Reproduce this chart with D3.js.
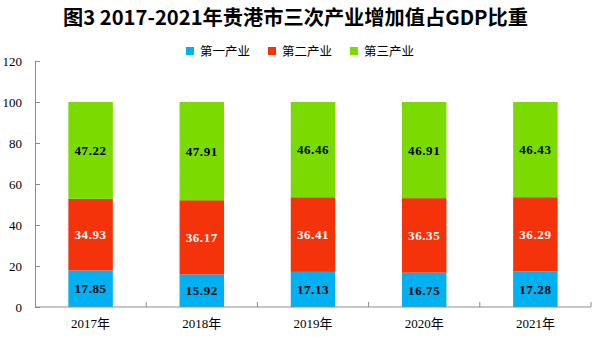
<!DOCTYPE html>
<html>
<head>
<meta charset="utf-8">
<script src="https://cdn.jsdelivr.net/npm/d3@7"></script>
<style>
  html, body { margin: 0; padding: 0; background: #fff; }
  svg { display: block; }
</style>
</head>
<body>
<svg id="chart" width="606" height="337"></svg>
<script>
const years = ["2017年", "2018年", "2019年", "2020年", "2021年"];
const seriesNames = ["第一产业", "第二产业", "第三产业"];
const primary = [17.85, 15.92, 17.13, 16.75, 17.28];
const secondary = [34.93, 36.17, 36.41, 36.35, 36.29];
const tertiary = [47.22, 47.91, 46.46, 46.91, 46.43];
const yTicks = [0, 20, 40, 60, 80, 100, 120];
const colors = ["#00B0F0", "#F4330A", "#7BDA00"];
const labelColors = ["#000", "#fff", "#000"];

const svg = d3.select("#chart");
const margin = { left: 35, right: 15, top: 61, bottom: 30 };

const x = d3.scaleBand().domain(years).range([margin.left, 591]).paddingInner(0.6).paddingOuter(0.3);
const xOuter = d3.scaleBand().domain(years).range([margin.left, 591]);
const y = d3.scaleLinear().domain([0, 120]).range([307, 61]);

const rows = years.map((yr, i) => ({ year: yr, s0: primary[i], s1: secondary[i], s2: tertiary[i] }));
const stack = d3.stack().keys(["s0", "s1", "s2"]);
const layers = stack(rows);

const serif = "'Liberation Serif', 'Noto Sans CJK SC', serif";
const axisColor = "#8c8c8c";

// Title
svg.append("text")
  .attr("x", 63).attr("y", 25)
  .attr("textLength", 465).attr("lengthAdjust", "spacingAndGlyphs")
  .attr("font-family", "'Noto Sans CJK SC', sans-serif")
  .attr("font-weight", "bold").attr("font-size", 20)
  .attr("fill", "#000")
  .text("图3 2017-2021年贵港市三次产业增加值占GDP比重");

// Legend
const legendX = [186, 268, 350];
seriesNames.forEach((name, i) => {
  const g = svg.append("g").attr("transform", `translate(${legendX[i]},47)`);
  g.append("rect").attr("width", 8).attr("height", 8).attr("fill", colors[i]);
  g.append("text").attr("x", 14).attr("y", 9)
    .attr("font-family", "'Noto Sans CJK SC', sans-serif")
    .attr("font-size", 12.5).attr("fill", "#000")
    .text(name);
});

// Stacked bars with value labels
layers.forEach((layer, si) => {
  const g = svg.append("g");
  g.selectAll("rect").data(layer).enter().append("rect")
    .attr("x", d => x(d.data.year))
    .attr("width", x.bandwidth())
    .attr("y", d => y(d[1]))
    .attr("height", d => y(d[0]) - y(d[1]))
    .attr("fill", colors[si]);
  g.selectAll("text").data(layer).enter().append("text")
    .attr("x", d => x(d.data.year) + x.bandwidth() / 2)
    .attr("y", d => y((d[0] + d[1]) / 2))
    .attr("dy", "0.36em")
    .attr("text-anchor", "middle")
    .attr("font-family", serif).attr("font-weight", "bold").attr("font-size", 13)
    .attr("letter-spacing", 0.6)
    .attr("fill", labelColors[si])
    .text(d => (d[1] - d[0]).toFixed(2));
});

// Y axis
const yAxis = d3.axisLeft(y).tickValues(yTicks).tickSize(-5).tickPadding(13);
const yG = svg.append("g").attr("transform", `translate(${margin.left},0)`).call(yAxis);
yG.select(".domain").attr("stroke", axisColor);
yG.selectAll(".tick line").attr("stroke", axisColor);
yG.selectAll(".tick text").attr("font-family", serif).attr("font-size", 13).attr("fill", "#000");

// X axis
const xG = svg.append("g").attr("transform", "translate(0,307)");
xG.append("line").attr("x1", margin.left).attr("x2", 591).attr("stroke", axisColor);
xG.selectAll("line.tk").data(years).enter().append("line")
  .attr("class", "tk")
  .attr("x1", d => xOuter(d) + xOuter.bandwidth()).attr("x2", d => xOuter(d) + xOuter.bandwidth())
  .attr("y1", 0).attr("y2", -5).attr("stroke", axisColor);
xG.selectAll("text").data(years).enter().append("text")
  .attr("x", d => x(d) + x.bandwidth() / 2)
  .attr("y", 21)
  .attr("text-anchor", "middle")
  .attr("font-family", serif).attr("font-size", 13).attr("fill", "#000")
  .text(d => d);
</script>
</body>
</html>
